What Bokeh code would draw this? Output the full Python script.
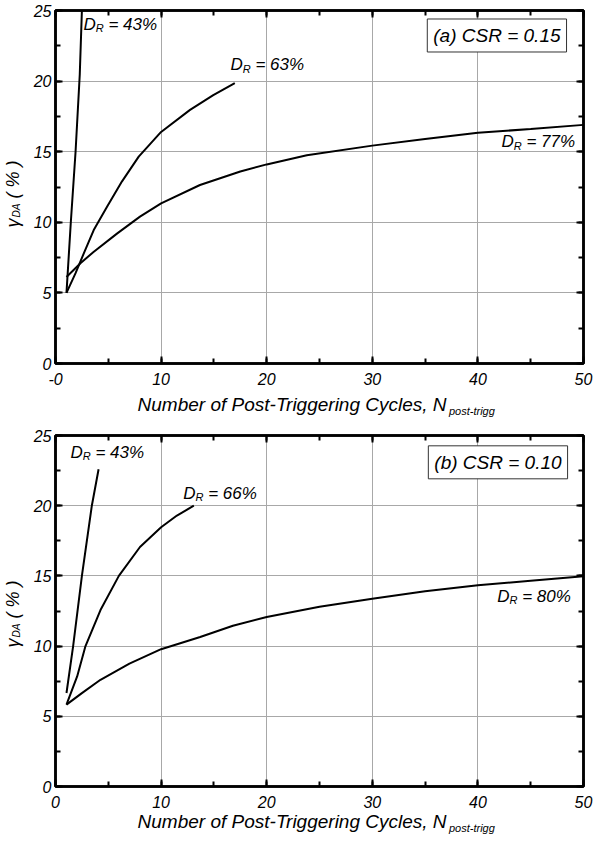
from bokeh.plotting import figure
from bokeh.models import Range1d, LinearAxis, SingleIntervalTicker, Label
from bokeh.layouts import column
from bokeh.embed import file_html
from bokeh.resources import INLINE

FONT = "Liberation Sans"

# ---------------- data: panel (a) CSR = 0.15 ----------------
a_dr43_x = [1.04, 1.45, 1.9, 2.3, 2.5]
a_dr43_y = [5.0, 10.0, 15.0, 20.5, 25.0]
a_dr63_x = [1.04, 1.9, 2.68, 3.62, 4.88, 6.3, 7.88, 10.0, 12.74, 14.94, 16.98]
a_dr63_y = [5.0, 6.4, 7.8, 9.45, 11.1, 12.9, 14.65, 16.4, 17.96, 19.0, 19.85]
a_dr77_x = [1.04, 2.36, 3.6, 5.82, 8.0, 10.0, 13.68, 17.5, 20.0, 23.8, 30.0, 35.0, 40.0, 45.0, 50.0]
a_dr77_y = [6.13, 7.1, 7.9, 9.2, 10.4, 11.34, 12.64, 13.6, 14.1, 14.75, 15.43, 15.9, 16.35, 16.6, 16.9]

# ---------------- data: panel (b) CSR = 0.10 ----------------
b_dr43_x = [1.04, 1.67, 2.5, 3.44, 4.08]
b_dr43_y = [6.66, 10.0, 15.0, 20.0, 22.6]
b_dr66_x = [1.04, 2.05, 2.84, 4.26, 6.0, 8.0, 10.0, 11.5, 13.1]
b_dr66_y = [5.83, 7.84, 10.0, 12.57, 15.0, 17.06, 18.47, 19.3, 20.0]
b_dr80_x = [1.04, 2.5, 4.26, 7.0, 10.0, 13.7, 16.8, 20.0, 25.0, 30.0, 35.0, 40.0, 45.0, 50.0]
b_dr80_y = [5.83, 6.65, 7.6, 8.75, 9.78, 10.65, 11.45, 12.07, 12.8, 13.38, 13.9, 14.33, 14.65, 14.97]

x_ticks = [0, 10, 20, 30, 40, 50]
y_ticks = [0, 5, 10, 15, 20, 25]
x_label_main = "Number of Post-Triggering Cycles, N"
x_label_sub = "post-trigg"
y_label_main = "\u03b3\u00a0\u00a0\u00a0\u00a0( % )"
y_label_sub = "DA"

# Arial / Liberation Sans advance widths (em)
WID = {' ': .278, '=': .584, '%': .889, '.': .278, '(': .333, ')': .333, ',': .278, '-': .333,
       'D': .722, 'R': .722, 'A': .667, 'N': .722, 'P': .667, 'T': .611, 'C': .722, 'S': .667,
       'a': .556, 'b': .556, 'c': .5, 'e': .556, 'f': .278, 'g': .556, 'i': .222, 'l': .222,
       'm': .833, 'n': .556, 'o': .556, 'p': .556, 'r': .333, 's': .5, 't': .278, 'u': .556,
       'y': .5, '\u03b3': .5}


def tw(s, size):
    return sum(WID.get(ch, .556) for ch in s) * size


def style_fig(p, zero_text):
    p.x_range = Range1d(0, 50)
    p.y_range = Range1d(0, 25)
    p.outline_line_color = "black"
    p.outline_line_width = 2.5
    p.background_fill_color = "white"
    p.border_fill_color = "white"
    xt = SingleIntervalTicker(interval=10, num_minor_ticks=2)
    yt = SingleIntervalTicker(interval=5, num_minor_ticks=2)
    bottom = p.below[0]
    left = p.left[0]
    bottom.ticker = xt
    left.ticker = yt
    bottom.major_label_standoff = 9
    left.major_label_standoff = 4
    bottom.major_label_overrides = {0: zero_text}
    top = LinearAxis(ticker=xt, major_label_overrides={t: "" for t in x_ticks}, major_label_standoff=0)
    right = LinearAxis(ticker=yt, major_label_overrides={t: "" for t in y_ticks}, major_label_standoff=0)
    p.add_layout(top, "above")
    p.add_layout(right, "right")
    for ax in (bottom, left, top, right):
        ax.axis_line_width = 2.5
        ax.axis_line_color = "black"
        ax.major_tick_in = 7
        ax.major_tick_out = 0
        ax.minor_tick_in = 5
        ax.minor_tick_out = 0
        ax.major_tick_line_width = 2
        ax.minor_tick_line_width = 2
        ax.major_tick_line_color = "black"
        ax.minor_tick_line_color = "black"
        ax.major_label_text_font = FONT
        ax.major_label_text_font_style = "italic"
        ax.major_label_text_color = "black"
        ax.major_label_text_font_size = "16px"
    p.xgrid.ticker = xt
    p.ygrid.ticker = yt
    p.grid.grid_line_color = "#a8a8a8"
    p.grid.grid_line_width = 1
    p.grid.minor_grid_line_color = None


def mk(text, x, y, size, xo=0, yo=0, align="left", angle=0):
    return Label(x=x, y=y, text=text, x_offset=xo, y_offset=yo,
                 text_font=FONT, text_font_style="italic", text_font_size=f"{size}px",
                 text_color="black", text_align=align, text_baseline="alphabetic",
                 angle=angle, angle_units="deg")


def dr_label(p, x, y, pct, align="left"):
    main, sub = 17, 11
    rest = f"= {pct}%"
    wd, wr = tw("D", main), tw("R", sub)
    wsp = tw(" ", main)
    wrest = tw(rest, main)
    start = 0 if align == "left" else -(wd + wr + wsp + wrest)
    p.add_layout(mk("D", x, y, main, xo=start))
    p.add_layout(mk("R", x, y, sub, xo=start + wd, yo=-4))
    p.add_layout(mk(rest, x, y, main, xo=start + wd + wr + wsp))


def box_label(p, text, x, y):
    p.add_layout(Label(x=x, y=y, text=text, text_font=FONT, text_font_style="italic",
                       text_font_size="19px", text_color="black", text_align="center",
                       text_baseline="middle", border_line_color="#333333", border_line_width=1,
                       background_fill_color="white", padding=6))


def axis_titles(p, xl_x, xl_y, yl_x, yl_y):
    # titles live in side panels so that they are not clipped to the frame
    p.add_layout(mk(x_label_main, xl_x, xl_y, 19), "below")
    p.add_layout(mk(x_label_sub, xl_x, xl_y, 11, xo=tw(x_label_main, 19) + 1, yo=-7), "below")
    p.add_layout(mk(y_label_main, yl_x, yl_y, 18, angle=90), "left")
    p.add_layout(mk(y_label_sub, yl_x, yl_y, 10, xo=4, yo=tw("\u03b3", 18) + 1, angle=90), "right")


def make_fig(height, top, bottom):
    return figure(width=594, height=height, output_backend="svg", toolbar_location=None,
                  min_border_left=55, min_border_right=11, min_border_top=top,
                  min_border_bottom=bottom)


# ---------------- panel (a) ----------------
p1 = make_fig(423, 10, 60)
style_fig(p1, "-0")
for xs, ys in [(a_dr43_x, a_dr43_y), (a_dr63_x, a_dr63_y), (a_dr77_x, a_dr77_y)]:
    p1.line(xs, ys, line_color="black", line_width=2)
dr_label(p1, 2.65, 24.02, 43)
dr_label(p1, 16.57, 21.17, 63)
dr_label(p1, 49.2, 15.72, 77, align="right")
box_label(p1, "(a) CSR = 0.15", 41.8, 23.23)
axis_titles(p1, 7.77, -2.90, -4.07, 9.63)

# ---------------- panel (b) ----------------
p2 = make_fig(423, 12, 60)
style_fig(p2, "0")
for xs, ys in [(b_dr43_x, b_dr43_y), (b_dr66_x, b_dr66_y), (b_dr80_x, b_dr80_y)]:
    p2.line(xs, ys, line_color="black", line_width=2)
dr_label(p2, 1.42, 23.8, 43)
dr_label(p2, 12.1, 20.9, 66)
dr_label(p2, 48.8, 13.55, 80, align="right")
box_label(p2, "(b) CSR = 0.10", 41.9, 23.09)
axis_titles(p2, 7.77, -2.46, -4.07, 9.9)

layout = column(p1, p2, spacing=0)
open("out.html", "w").write(file_html(layout, INLINE))
